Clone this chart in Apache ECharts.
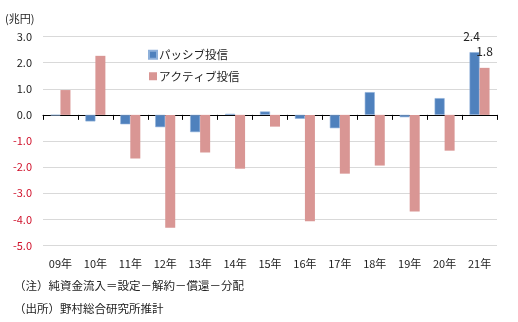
<!DOCTYPE html>
<html><head><meta charset="utf-8">
<script src="https://cdn.jsdelivr.net/npm/echarts@6/dist/echarts.min.js"></script>
<style>html,body{margin:0;padding:0;background:#fff}#c{width:518px;height:322px}</style>
</head><body><div id="c"></div>
<script>
const categories = ['09年','10年','11年','12年','13年','14年','15年','16年','17年','18年','19年','20年','21年'];
const passive = [-0.02, -0.25, -0.36, -0.47, -0.66, 0.04, 0.13, -0.15, -0.51, 0.87, -0.09, 0.64, 2.4];
const active = [0.95, 2.26, -1.67, -4.32, -1.44, -2.06, -0.45, -4.07, -2.25, -1.94, -3.70, -1.37, 1.8];
const seriesNames = ['パッシブ投信', 'アクティブ投信'];
const yTicks = {min: -5, max: 3, interval: 1};
const labeledIndex = 12;

const FONT = '"Noto Sans CJK JP", sans-serif';
function mk(arr) {
  return arr.map((v, i) => i === labeledIndex ? {value: v, label: {show: true}} : v);
}
const chart = echarts.init(document.getElementById('c'), null, {renderer: 'canvas'});
chart.setOption({
  animation: false,
  textStyle: {fontFamily: FONT},
  grid: {left: 43, right: 21, top: 36.5, bottom: 76.5, containLabel: false},
  legend: {
    orient: 'vertical', left: 143, top: 44, itemWidth: 8, itemHeight: 8, itemGap: 10,
    icon: 'rect', data: seriesNames,
    textStyle: {fontFamily: FONT, fontSize: 11.5, color: '#222', padding: [0,0,0,-3]}
  },
  xAxis: [{
    type: 'category', data: categories, position: 'bottom',
    axisLine: {onZero: true, lineStyle: {color: '#000', width: 1}},
    axisTick: {show: true, length: 5, inside: false, lineStyle: {color: '#000'}},
    axisLabel: {show: false}
  }, {
    type: 'category', data: categories, position: 'bottom',
    axisLine: {show: false, onZero: false}, axisTick: {show: false},
    axisLabel: {show: true, margin: 13, fontSize: 11, color: '#222', fontFamily: FONT}
  }],
  yAxis: {
    type: 'value', min: yTicks.min, max: yTicks.max, interval: yTicks.interval,
    axisLine: {show: false}, axisTick: {show: false},
    splitLine: {lineStyle: {color: '#D9D9D9', width: 1}},
    axisLabel: {
      margin: 11, fontSize: 11, fontFamily: FONT,
      formatter: v => v.toFixed(1),
      color: v => (Number(v) < 0 ? '#D0102A' : '#222')
    }
  },
  series: [{
    name: seriesNames[0], type: 'bar', data: mk(passive), barWidth: 10, barGap: '0%',
    itemStyle: {color: '#4F81BD', borderColor: '#8EB0DA', borderWidth: 0.6},
    label: {show: false, position: 'top', distance: 10, fontSize: 12, color: '#222', fontFamily: FONT, offset: [-3, 0]}
  }, {
    name: seriesNames[1], type: 'bar', data: mk(active), barWidth: 10, barGap: '0%',
    itemStyle: {color: '#D99694'},
    label: {show: false, position: 'top', distance: 10, fontSize: 12, color: '#222', fontFamily: FONT}
  }],
  graphic: [
    {type: 'text', left: 5, top: 13, style: {text: '(兆円)', font: '11px ' + FONT, fill: '#222'}},
    {type: 'text', left: 14, top: 280, style: {text: '（注）純資金流入＝設定－解約－償還－分配', font: '11.5px ' + FONT, fill: '#222'}},
    {type: 'text', left: 14, top: 303, style: {text: '（出所）野村総合研究所推計', font: '11.5px ' + FONT, fill: '#222'}}
  ]
});
</script></body></html>
